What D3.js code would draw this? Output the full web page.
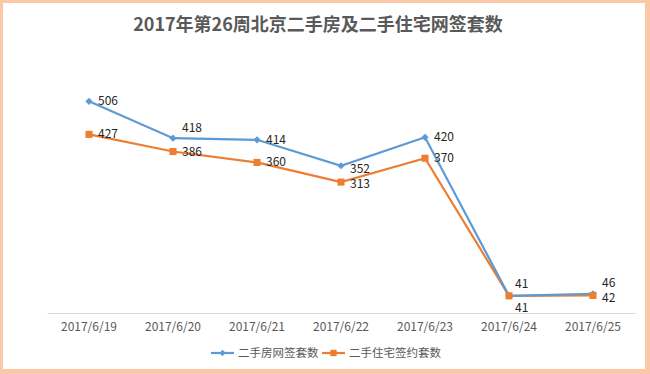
<!DOCTYPE html>
<html><head><meta charset="utf-8">
<script src="https://cdn.jsdelivr.net/npm/d3@7"></script>
<style>
html,body{margin:0;padding:0;background:#fff;}
svg{display:block;}
</style></head>
<body>
<svg id="chart" width="650" height="374"></svg>
<script>
const title = "2017年第26周北京二手房及二手住宅网签套数";
const categories = ["2017/6/19","2017/6/20","2017/6/21","2017/6/22","2017/6/23","2017/6/24","2017/6/25"];
const seriesNames = ["二手房网签套数","二手住宅签约套数"];
const onlineSigned = [506,418,414,352,420,41,46];
const residentialSigned = [427,386,360,313,370,41,42];
// label placement per point (style)
const placeA = ["r","ar","r","rb","r","a","ar2"];
const placeB = ["r","r","r","rb2","r","b","rb"];

const svg = d3.select("#chart");
const W = 650, H = 374;
const font = "'Microsoft YaHei','Noto Sans CJK SC','DejaVu Sans',sans-serif";
// frame
svg.append("rect").attr("x",0).attr("y",0).attr("width",W).attr("height",H).attr("fill","#FAC8A6");
svg.append("rect").attr("x",3).attr("y",3).attr("width",W-8).attr("height",H-8).attr("fill","#fff");

svg.append("text").attr("x",318).attr("y",31).attr("text-anchor","middle")
  .attr("font-family",font).attr("font-size",18).attr("font-weight","bold").attr("fill","#595959")
  .text(title);

const x = d3.scaleBand().domain(categories).range([47,635]);
const y = d3.scaleLinear().domain([0,600]).range([313,62]);

svg.append("g").attr("transform","translate(0,313)")
  .call(d3.axisBottom(x).tickSize(0).tickPadding(9))
  .call(g=>{g.select(".domain").attr("stroke","#d9d9d9");
    g.selectAll("text").attr("font-family",font).attr("font-size",12).attr("fill","#595959");});

const cx = d=>x(d)+x.bandwidth()/2;
const series = [
 {name:seriesNames[0],vals:onlineSigned,color:"#5B9BD5",diamond:true,place:placeA},
 {name:seriesNames[1],vals:residentialSigned,color:"#ED7D31",diamond:false,place:placeB}
];
const line = d3.line().x((d,i)=>cx(categories[i])).y(d=>y(d));
series.slice().reverse().forEach(s=>{
  svg.append("path").datum(s.vals).attr("d",line).attr("fill","none")
    .attr("stroke",s.color).attr("stroke-width",2.2);
});
function marker(g, s, sizeD, sizeS){
  g.attr("d",d3.symbol().type(d3.symbolSquare).size(s.diamond?sizeD:sizeS)).attr("fill",s.color);
}
series.forEach(s=>{
  svg.append("g").selectAll("path").data(s.vals).join("path")
    .attr("transform",(d,i)=>`translate(${cx(categories[i])},${y(d)})`+(s.diamond?" rotate(45)":""))
    .call(marker, s, 26, 50);
});
series.forEach(s=>{
  svg.append("g").selectAll("text").data(s.vals).join("text")
    .attr("x",(d,i)=>{const p=s.place[i];return cx(categories[i])+(p==="a"||p==="b"?6:9);})
    .attr("y",(d,i)=>{const p=s.place[i];const dy={r:4,ar:-6,ar2:-7,rb:7,rb2:6,a:-8,b:16}[p];return y(d)+dy;})
    .attr("text-anchor","start")
    .attr("font-family",font).attr("font-size",12).attr("fill","#262626")
    .text(d=>d);
});

// legend
const lg = svg.append("g");
const legendItems = [{x:211,s:series[0]},{x:322,s:series[1]}];
legendItems.forEach(it=>{
  lg.append("line").attr("x1",it.x).attr("x2",it.x+23).attr("y1",353).attr("y2",353)
    .attr("stroke",it.s.color).attr("stroke-width",2.2);
  lg.append("path").attr("transform",`translate(${it.x+11.5},353)`+(it.s.diamond?" rotate(45)":""))
    .call(marker, it.s, 20, 40);
  lg.append("text").attr("x",it.x+27).attr("y",357).attr("font-family",font).attr("font-size",11.5)
    .attr("fill","#595959").text(it.s.name);
});
</script>
</body></html>
